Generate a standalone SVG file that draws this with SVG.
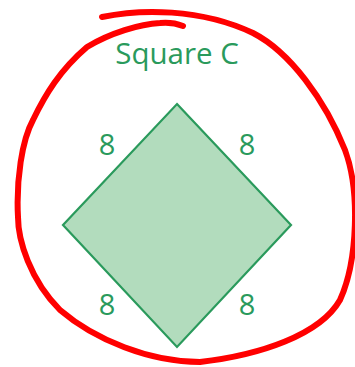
<svg xmlns="http://www.w3.org/2000/svg" width="355" height="367" viewBox="0 0 355 367">
<style>
.t{font-family:"Open Sans","Liberation Sans",sans-serif;fill:#2a9a5c;text-anchor:middle}
.lbl{font-size:29px}
</style>
<rect width="355" height="367" fill="#fff"/>
<g id="square-c">
<polygon points="177,104 291,225 177,347 63,225" fill="#b2dcbd" stroke="#2a9a5c" stroke-width="2.2"/>
<text class="t" x="177" y="64" font-size="29.5">Square C</text>
</g>
<g id="labels">
<text class="t lbl" x="107" y="155">8</text>
<text class="t lbl" x="247" y="155">8</text>
<text class="t lbl" x="107" y="315">8</text>
<text class="t lbl" x="247" y="315">8</text>
</g>
<g id="annotation">
<path d="M102,17 C140,9 200,8 253,33 C290,52 325,100 345,150 C360,190 358,260 340,300 C320,335 260,355 200,362 C150,362 95,340 60,310 C30,280 18,240 18,217 C16,180 22,140 33,120 C45,95 60,70 87,47 C110,33 140,24 160,23 C170,22 178,24 183,26" fill="none" stroke="#ff0000" stroke-width="6" stroke-linecap="round" stroke-linejoin="round"/>
</g>
</svg>
